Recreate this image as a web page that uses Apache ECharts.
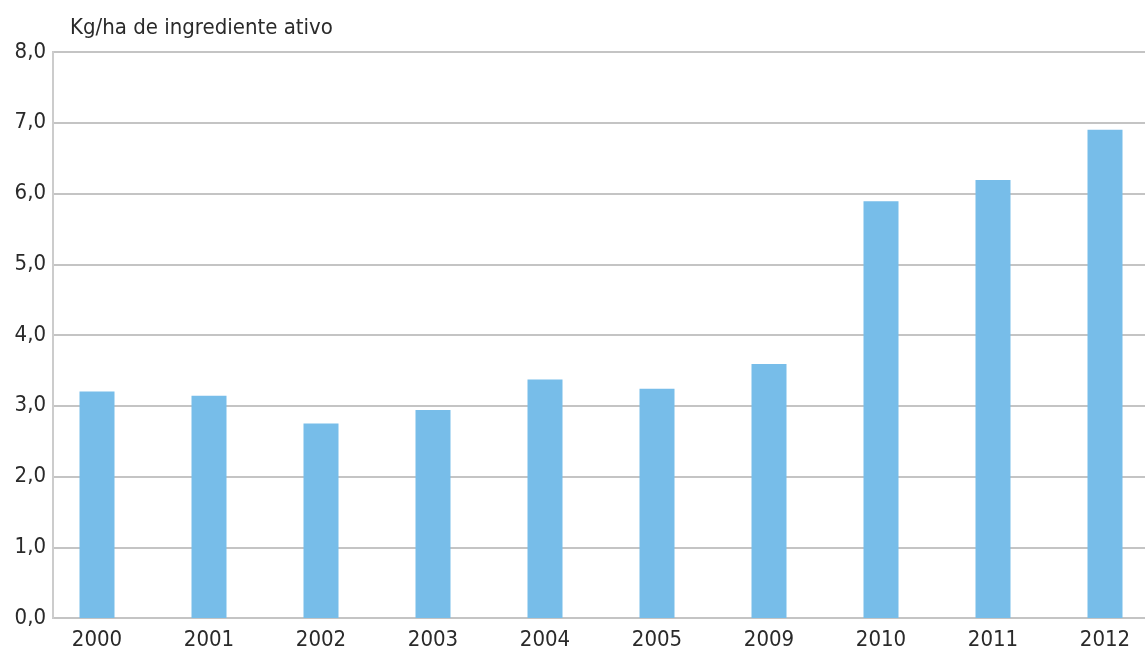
<!DOCTYPE html>
<html>
<head>
<meta charset="utf-8">
<script src="https://cdn.jsdelivr.net/npm/echarts@6/dist/echarts.min.js"></script>
<style>
html,body{margin:0;padding:0;background:#fff;overflow:hidden;width:1145px;height:655px;}
#chart{width:1161px;height:655px;}
</style>
</head>
<body>
<div id="chart"></div>
<script>
var categories = ['2000','2001','2002','2003','2004','2005','2009','2010','2011','2012'];
var values = [3.20, 3.14, 2.75, 2.94, 3.37, 3.24, 3.59, 5.89, 6.19, 6.90];
var yTicks = ['0,0','1,0','2,0','3,0','4,0','5,0','6,0','7,0','8,0'];
var unitLabel = 'Kg/ha de ingrediente ativo';

var FONT = '"DejaVu Sans Condensed","Liberation Sans Narrow",sans-serif';
var chart = echarts.init(document.getElementById('chart'), null, {renderer:'canvas'});
chart.setOption({
  animation:false,
  backgroundColor:'#fff',
  title:{
    text:unitLabel, left:65, top:12,
    textStyle:{fontFamily:FONT, fontSize:22, fontWeight:'normal', color:'#2a2a2a'}
  },
  grid:{left:41, right:0, top:52, bottom:37, containLabel:false},
  xAxis:{
    type:'category', data:categories, boundaryGap:true,
    axisLine:{show:true, lineStyle:{color:'#c4c4c4', width:2}},
    axisTick:{show:false},
    axisLabel:{fontFamily:FONT, fontSize:22, color:'#2a2a2a', margin:11, interval:0},
    z:1
  },
  yAxis:[{
    type:'value', min:0, max:8, interval:1,
    axisLine:{show:false}, axisTick:{show:false}, axisLabel:{show:false},
    splitLine:{show:true, lineStyle:{color:'#c4c4c4', width:2}},
    z:0
  },{
    type:'value', min:0, max:8, interval:1, position:'left', offset:-12,
    axisLine:{show:true, lineStyle:{color:'#cccccc', width:2}},
    axisTick:{show:false},
    splitLine:{show:false},
    axisLabel:{fontFamily:FONT, fontSize:22, color:'#2a2a2a', margin:7,
      verticalAlign:'middle', padding:[0,0,5,0],
      formatter:function(v){ return yTicks[Math.round(v)]; }},
    z:10
  }],
  graphic:[{
    type:'rect', z:5, silent:true,
    shape:{x:0, y:40, width:52, height:582},
    style:{fill:'#fff'}
  }],
  series:[{
    type:'bar', data:values, yAxisIndex:0, barWidth:35,
    itemStyle:{color:'#77bde9'}
  }]
});
</script>
</body>
</html>
